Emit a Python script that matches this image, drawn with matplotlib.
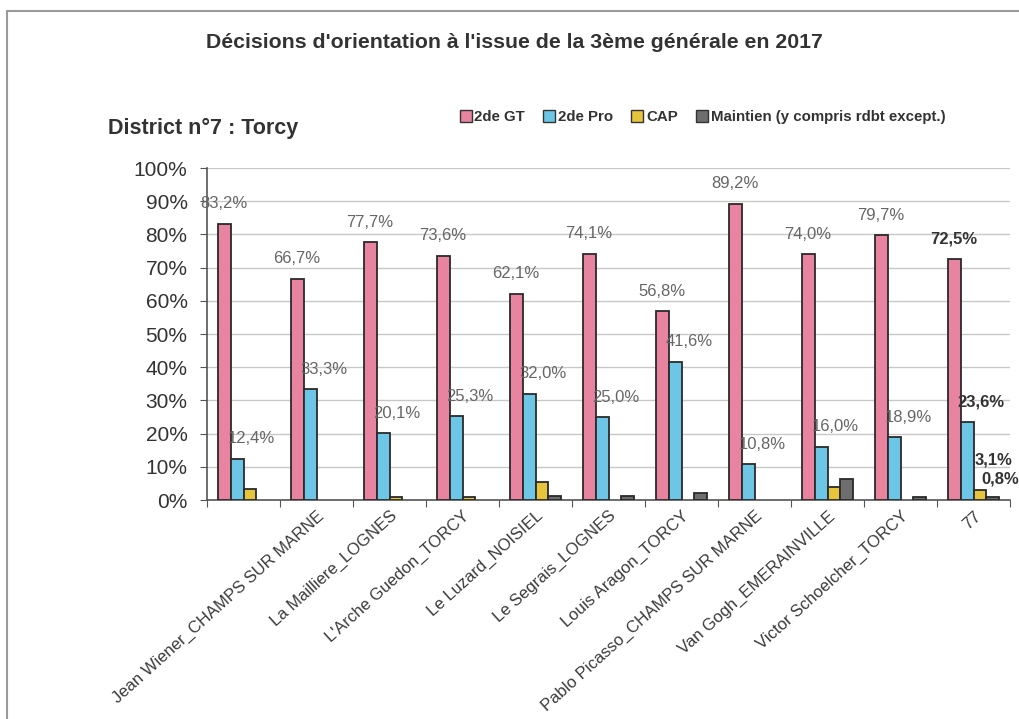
import matplotlib
matplotlib.use("Agg")
import matplotlib.pyplot as plt
import numpy as np
from matplotlib.patches import Rectangle, Patch

plt.rcParams['font.family'] = ['Liberation Sans', 'DejaVu Sans']

categories = ["", "Jean Wiener_CHAMPS SUR MARNE", "La Mailliere_LOGNES",
              "L'Arche Guedon_TORCY", "Le Luzard_NOISIEL", "Le Segrais_LOGNES",
              "Louis Aragon_TORCY", "Pablo Picasso_CHAMPS SUR MARNE",
              "Van Gogh_EMERAINVILLE", "Victor Schoelcher_TORCY", "77"]
gt = [83.2, 66.7, 77.7, 73.6, 62.1, 74.1, 56.8, 89.2, 74.0, 79.7, 72.5]
pro = [12.4, 33.3, 20.1, 25.3, 32.0, 25.0, 41.6, 10.8, 16.0, 18.9, 23.6]
cap = [3.4, 0.0, 1.0, 0.8, 5.4, 0.0, 0.0, 0.0, 3.8, 0.0, 3.1]
maintien = [0.0, 0.0, 0.0, 0.0, 1.2, 1.2, 2.2, 0.0, 6.2, 1.0, 0.8]
series_names = ["2de GT", "2de Pro", "CAP", "Maintien (y compris rdbt except.)"]
colors = ["#E8849F", "#6EC6E6", "#E6C43C", "#6E6E6E"]

fig = plt.figure(figsize=(10.19, 7.19), dpi=100)
fig.patches.append(Rectangle((7/1019, -0.02), 1.05, 1.02 - 11/719, transform=fig.transFigure,
                             fill=False, edgecolor="#9a9a9a", linewidth=1.5))

ax = fig.add_axes([207/1019, (719-500)/719, 803/1019, 332/719])
x = np.arange(len(categories))
w = 0.178
data = [gt, pro, cap, maintien]
for i, (vals, col) in enumerate(zip(data, colors)):
    lws = [1.3 if v > 0 else 0 for v in vals]
    ax.bar(x + (i - 1.5) * w, vals, w, color=col, edgecolor="#2a2a2a", linewidth=lws, zorder=3)

def fmt(v):
    return ("%.1f%%" % v).replace(".", ",")

n = len(categories)
for j in range(n):
    last = (j == n - 1)
    weight = "bold" if last else "normal"
    c = "#333333" if last else "#666666"
    ax.annotate(fmt(gt[j]), (x[j] - 1.5 * w, gt[j]), xytext=(0, 9), textcoords="offset points",
                ha="center", va="bottom", fontsize=12, color=c, fontweight=weight)
    ax.annotate(fmt(pro[j]), (x[j] - 0.5 * w, pro[j]), xytext=(10, 9), textcoords="offset points",
                ha="center", va="bottom", fontsize=12, color=c, fontweight=weight)
j = n - 1
ax.annotate(fmt(cap[j]), (x[j] + 0.5 * w, cap[j]), xytext=(10, 16), textcoords="offset points",
            ha="center", va="bottom", fontsize=12, color="#333333", fontweight="bold")
ax.annotate(fmt(maintien[j]), (x[j] + 1.5 * w, maintien[j]), xytext=(5, 8), textcoords="offset points",
            ha="center", va="bottom", fontsize=12, color="#333333", fontweight="bold")

ax.set_ylim(0, 100)
ax.set_xlim(-0.5, n - 0.5)
ax.set_yticks(np.arange(0, 101, 10))
ax.set_yticklabels(["%d%%" % v for v in range(0, 101, 10)], fontsize=15, color="#333333")
ax.yaxis.grid(True, color="#c8c8c8", linewidth=1.0, zorder=0)
ax.set_axisbelow(True)
for s in ["top", "right"]:
    ax.spines[s].set_visible(False)
for s in ["left", "bottom"]:
    ax.spines[s].set_color("#555555")
    ax.spines[s].set_linewidth(1.2)
ax.tick_params(axis="y", length=5, color="#555555", pad=9)

ax.set_xticks(np.arange(-0.5, n, 1.0), minor=False)
ax.set_xticklabels([])
ax.tick_params(axis="x", which="major", length=5, color="#555555")
ax.set_xticks(x, minor=True)
ax.set_xticklabels(categories, minor=True, rotation=42, ha="right", va="top",
                   rotation_mode="anchor", fontsize=12, color="#3a3a3a")
ax.tick_params(axis="x", which="minor", length=0, pad=6)

fig.text(514/1019, 1 - 42/719, "Décisions d'orientation à l'issue de la 3ème générale en 2017",
         ha="center", va="center", fontsize=15.3, fontweight="bold", color="#333333")
fig.text(108/1019, 1 - 128/719, "District n°7 : Torcy", ha="left", va="center",
         fontsize=15.5, fontweight="bold", color="#333333")

handles = [Patch(facecolor=c, edgecolor="#333333", linewidth=1.0) for c in colors]
leg = fig.legend(handles, series_names, loc="center left", bbox_to_anchor=(452/1019, 1 - 117/719),
                 ncol=4, frameon=False, prop={"weight": "bold", "size": 10.8},
                 handlelength=0.8, handleheight=0.8, handletextpad=0.2, columnspacing=1.2,
                 borderpad=0)
for t in leg.get_texts():
    t.set_color("#333333")

fig.savefig("out.png", dpi=100)
